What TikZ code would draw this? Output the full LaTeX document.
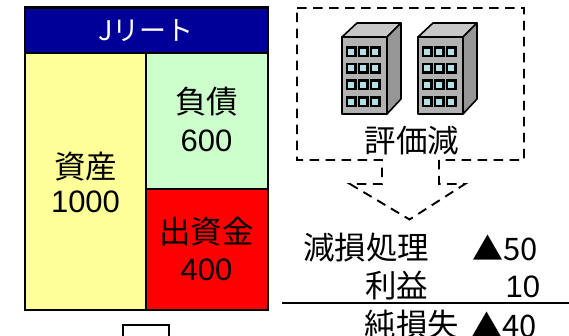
\documentclass[tikz,border=0pt]{standalone}
\usepackage{fontspec}
\setmainfont{Liberation Sans}
\newfontfamily\cjk{Noto Sans CJK JP}
\tikzset{
  x=1pt,y=-1pt,
  panel/.style={draw=black,line width=2.4pt,line join=miter},
  lab/.style={inner sep=0pt,outer sep=0pt,font=\fontsize{31}{31}\selectfont,text=black},
  jp/.style={inner sep=0pt,outer sep=0pt,font=\fontsize{31.5}{31.5}\selectfont\cjk,text=black},
  callout/.style={draw=black,line width=1.9pt,dash pattern=on 9.5pt off 6.5pt},
  rule/.style={draw=black,line width=2.2pt},
  wall/.style={draw=black,line width=1.6pt,line join=round},
  winframe/.style={fill=black},
  winglass/.style={fill=winblue}
}
\definecolor{navy}{RGB}{0,0,153}
\definecolor{paleyellow}{RGB}{255,255,153}
\definecolor{palegreen}{RGB}{204,255,204}
\definecolor{winblue}{RGB}{178,224,228}
\definecolor{bfront}{RGB}{178,178,178}
\definecolor{btop}{RGB}{200,200,200}
\definecolor{bside}{RGB}{150,150,150}
\newcommand{\tower}[1]{%
  \begin{scope}[xshift=#1pt]
    \filldraw[wall,fill=bfront] (342,37) rectangle (387,114);
    \filldraw[wall,fill=btop] (342,37) -- (357,23) -- (401,23) -- (387,37) -- cycle;
    \filldraw[wall,fill=bside] (387,37) -- (401,23) -- (401,99) -- (387,114) -- cycle;
    \foreach \wy in {52,68.5,85,102}{
      \foreach \wx in {351,363,375}{
        \fill[winframe] (\wx-5.5,\wy-5.5) rectangle (\wx+5.5,\wy+5.5);
        \fill[winglass] (\wx-3,\wy-3) rectangle (\wx+3,\wy+3);
      }
    }
  \end{scope}}
\begin{document}
\begin{tikzpicture}
\useasboundingbox (0,0) rectangle (569,336);
% balance sheet
\filldraw[panel,fill=navy] (25,7.5) rectangle (268,53);
\filldraw[panel,fill=paleyellow] (25,53) rectangle (146,310);
\filldraw[panel,fill=palegreen] (146,53) rectangle (268,189);
\filldraw[panel,fill=red] (146,189) rectangle (268,310);
\node[lab,text=white,font=\fontsize{27}{27}\selectfont\cjk] (title) at (146,31) {Jリート};
\node[jp] (assetA) at (85.5,167) {資産};
\node[lab] (assetB) at (85.5,202) {1000};
\node[jp] (debtA) at (206.5,102) {負債};
\node[lab] (debtB) at (206.5,141) {600};
\node[jp] (eqA) at (206.5,232) {出資金};
\node[lab] (eqB) at (206.5,270) {400};
% partly visible box at the bottom
\draw[panel] (123,345) -- (123,325) -- (169,325) -- (169,345);
% dashed block arrow
\draw[callout] (297,8) -- (524,8) -- (524,160) -- (439,160) -- (439,184) -- (465,184) -- (409.5,219.5) -- (350,184) -- (382,184) -- (382,160) -- (297,160) -- cycle;
\tower{0}
\tower{76}
\node[jp] (loss) at (412,141) {評価減};
% loss table
\node[jp,anchor=east] (l1) at (429,248) {減損処理};
\node[lab,anchor=east,font=\fontsize{31}{31}\selectfont\cjk] (v1) at (538,248) {▲50};
\node[jp,anchor=east] (l2) at (428,286) {利益};
\node[lab,anchor=east] (v2) at (540,287) {10};
\node[jp,anchor=east] (l3) at (459,325) {純損失};
\node[lab,anchor=east,font=\fontsize{31}{31}\selectfont\cjk] (v3) at (537,325) {▲40};
\draw[rule] (282,303) -- (569,303);
\end{tikzpicture}
\end{document}
